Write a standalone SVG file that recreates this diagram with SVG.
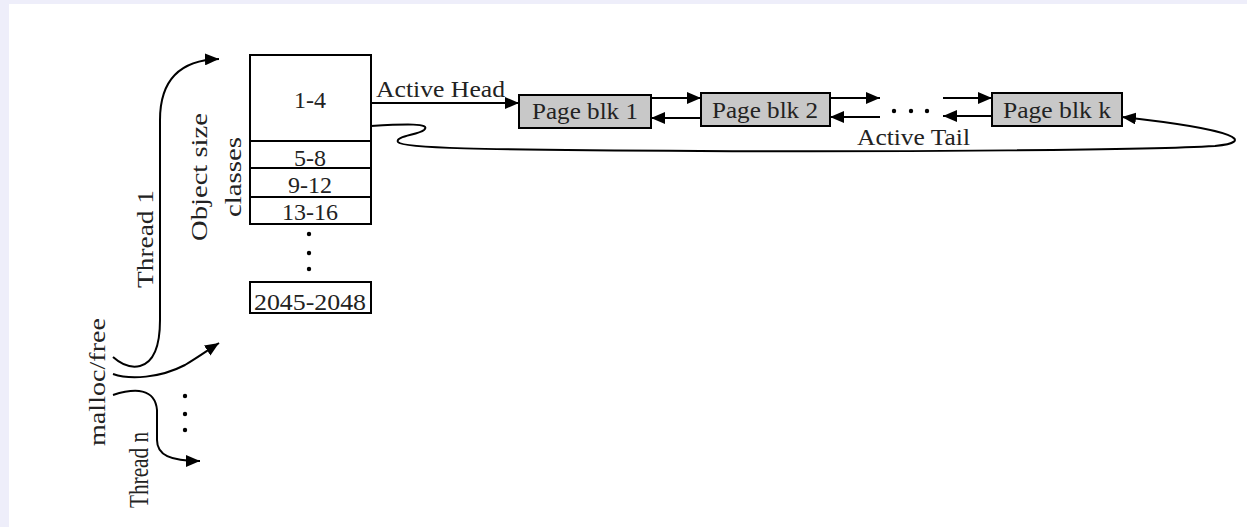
<svg xmlns="http://www.w3.org/2000/svg" width="1247" height="527" viewBox="0 0 1247 527">
<defs>
<marker id="ah" markerUnits="userSpaceOnUse" markerWidth="14" markerHeight="12" refX="14" refY="6" orient="auto"><path d="M0,0 L14,6 L0,12 z" fill="#000"/></marker>
<style>
text{font-family:"Liberation Serif","Times New Roman",serif;fill:#222;font-size:24px}
.box{fill:#fff;stroke:#000;stroke-width:2}
.pg{fill:#c8c8c8;stroke:#000;stroke-width:2}
.ln{fill:none;stroke:#000;stroke-width:2}
.c{text-anchor:middle}
</style>
</defs>
<rect x="0" y="0" width="1247" height="527" fill="#eeeefa"/>
<rect x="9" y="4" width="1238" height="523" fill="#fff"/>

<g id="size-classes">
<rect class="box" x="250" y="55" width="121" height="86"/>
<text class="c" x="310" y="108">1-4</text>
<rect class="box" x="250" y="141" width="121" height="27"/>
<text class="c" x="310" y="166">5-8</text>
<rect class="box" x="250" y="168" width="121" height="29"/>
<text class="c" x="310" y="193">9-12</text>
<rect class="box" x="250" y="197" width="121" height="27"/>
<text class="c" x="310" y="220">13-16</text>
<circle cx="309" cy="234" r="2.2" fill="#000"/>
<circle cx="309" cy="253" r="2.2" fill="#000"/>
<circle cx="309" cy="269" r="2.2" fill="#000"/>
<rect class="box" x="250" y="282" width="121" height="31"/>
<text class="c" x="310" y="310" textLength="112" lengthAdjust="spacingAndGlyphs">2045-2048</text>
</g>

<g id="label-object-size">
<text class="c" transform="translate(207,177) rotate(-90)" textLength="128" lengthAdjust="spacingAndGlyphs">Object size</text>
<text class="c" transform="translate(241,177) rotate(-90)" textLength="80" lengthAdjust="spacingAndGlyphs">classes</text>
</g>

<g id="page-blk-1">
<rect class="pg" x="519" y="95" width="132" height="33"/>
<text class="c" x="585" y="119" textLength="106" lengthAdjust="spacingAndGlyphs">Page blk 1</text>
</g>
<g id="page-blk-2">
<rect class="pg" x="701" y="93" width="129" height="33"/>
<text class="c" x="765" y="118" textLength="106" lengthAdjust="spacingAndGlyphs">Page blk 2</text>
</g>
<g id="page-blk-k">
<rect class="pg" x="992" y="93" width="130" height="33"/>
<text class="c" x="1057" y="118" textLength="108" lengthAdjust="spacingAndGlyphs">Page blk k</text>
</g>

<g id="threads">
<text class="c" transform="translate(105,382) rotate(-90)" textLength="128" lengthAdjust="spacingAndGlyphs">malloc/free</text>
<text class="c" transform="translate(153,239) rotate(-90)" textLength="98" lengthAdjust="spacingAndGlyphs">Thread 1</text>
<text class="c" transform="translate(148,470) rotate(-90)" style="font-size:27px" textLength="76" lengthAdjust="spacingAndGlyphs">Thread n</text>
<circle cx="185" cy="396" r="2.2" fill="#000"/>
<circle cx="185" cy="414" r="2.2" fill="#000"/>
<circle cx="185" cy="430" r="2.2" fill="#000"/>
</g>

<g id="connectors">
<path class="ln" d="M371,103 L519,103" marker-end="url(#ah)"/>
<text x="376" y="97" textLength="129" lengthAdjust="spacingAndGlyphs">Active Head</text>
<path class="ln" d="M651,98 L701,98" marker-end="url(#ah)"/>
<path class="ln" d="M701,118 L651,118" marker-end="url(#ah)"/>
<path class="ln" d="M830,98 L880,98" marker-end="url(#ah)"/>
<path class="ln" d="M880,117 L830,117" marker-end="url(#ah)"/>
<circle cx="894" cy="111" r="2.2" fill="#000"/>
<circle cx="911" cy="111" r="2.2" fill="#000"/>
<circle cx="927" cy="111" r="2.2" fill="#000"/>
<path class="ln" d="M943,98 L992,98" marker-end="url(#ah)"/>
<path class="ln" d="M992,116 L943,116" marker-end="url(#ah)"/>
<text x="857" y="145" textLength="113" lengthAdjust="spacingAndGlyphs">Active Tail</text>
<path class="ln" d="M371,126 C405,124 432,123 424,130 C418,135 395,136 398,142 C402,148 470,150 700,151 C900,152 1150,150 1215,146 C1255,142 1240,130 1122,117" marker-end="url(#ah)"/>
<path class="ln" d="M113,357 C122,365 132,368 140,366 C155,362 160,345 160,320 L160,120 C160,80 180,60 219,59" marker-end="url(#ah)"/>
<path class="ln" d="M113,374 C130,380 160,378 185,365 C200,356 208,350 219,343" marker-end="url(#ah)"/>
<path class="ln" d="M113,395 C135,388 155,388 157,410 L157,440 C157,455 170,461 200,461" marker-end="url(#ah)"/>
</g>
</svg>
